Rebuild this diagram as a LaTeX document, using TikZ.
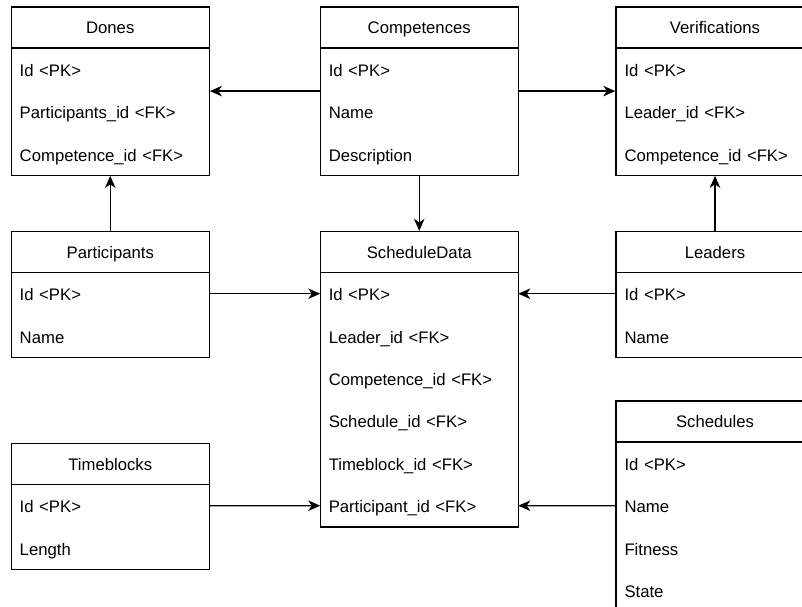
\documentclass[tikz,border=0pt]{standalone}
\usepackage{fontspec}
\setmainfont{Liberation Sans}
\usetikzlibrary{
    arrows.meta,
    positioning,
    fit
}

\begin{document}
\begin{tikzpicture}[
        x=1pt, y=-1pt,
        font=\fontsize{16.7}{20}\selectfont,
        header/.style={
            rectangle,
            draw,
            line width=1.3pt,
            minimum width=198pt,
            minimum height=41pt,
            text height=12pt,
            text depth=0pt,
            inner sep=0pt,
            outer sep=0pt
        },
        field/.style={
            rectangle,
            text width=181pt,
            text height=14pt,
            text depth=0pt,
            inner xsep=8.5pt,
            inner ysep=0pt,
            outer sep=0pt,
            minimum height=42.4pt,
            align=left
        },
        entity/.style={
            rectangle,
            draw,
            line width=1.3pt,
            inner sep=0pt
        },
        link/.style={
            -{Stealth[length=12pt, width=10.5pt, inset=3.5pt]},
            line width=1.3pt
        }
    ]

    \useasboundingbox (0,0) rectangle (802,606);
    \clip (0,0) rectangle (802,606);

    % top row
    \node[header] (dones) at (110.25,27.5) {Dones};
    \node[field, below=0pt of dones] (dones-1) {Id <PK>};
    \node[field, below=0pt of dones-1] (dones-2) {Participants\_id <FK>};
    \node[field, below=0pt of dones-2] (dones-3) {Competence\_id <FK>};
    \node[entity, fit=(dones)(dones-3)] (donesbox) {};

    \node[header] (comp) at (419.25,27.5) {Competences};
    \node[field, below=0pt of comp] (comp-1) {Id <PK>};
    \node[field, below=0pt of comp-1] (comp-2) {Name};
    \node[field, below=0pt of comp-2] (comp-3) {Description};
    \node[entity, fit=(comp)(comp-3)] (compbox) {};

    \node[header] (verif) at (715,27.5) {Verifications};
    \node[field, below=0pt of verif] (verif-1) {Id <PK>};
    \node[field, below=0pt of verif-1] (verif-2) {Leader\_id <FK>};
    \node[field, below=0pt of verif-2] (verif-3) {Competence\_id <FK>};
    \node[entity, fit=(verif)(verif-3)] (verifbox) {};

    % middle row
    \node[header] (part) at (110.25,252) {Participants};
    \node[field, below=0pt of part] (part-1) {Id <PK>};
    \node[field, below=0pt of part-1] (part-2) {Name};
    \node[entity, fit=(part)(part-2)] (partbox) {};

    \node[header] (sdata) at (419.25,252) {ScheduleData};
    \node[field, below=0pt of sdata] (sdata-1) {Id <PK>};
    \node[field, below=0pt of sdata-1] (sdata-2) {Leader\_id <FK>};
    \node[field, below=0pt of sdata-2] (sdata-3) {Competence\_id <FK>};
    \node[field, below=0pt of sdata-3] (sdata-4) {Schedule\_id <FK>};
    \node[field, below=0pt of sdata-4] (sdata-5) {Timeblock\_id <FK>};
    \node[field, below=0pt of sdata-5] (sdata-6) {Participant\_id <FK>};
    \node[entity, fit=(sdata)(sdata-6)] (sdatabox) {};

    \node[header] (lead) at (715,252) {Leaders};
    \node[field, below=0pt of lead] (lead-1) {Id <PK>};
    \node[field, below=0pt of lead-1] (lead-2) {Name};
    \node[entity, fit=(lead)(lead-2)] (leadbox) {};

    % bottom row
    \node[header] (tblock) at (110.25,464) {Timeblocks};
    \node[field, below=0pt of tblock] (tblock-1) {Id <PK>};
    \node[field, below=0pt of tblock-1] (tblock-2) {Length};
    \node[entity, fit=(tblock)(tblock-2)] (tblockbox) {};

    \node[header] (sched) at (715,421.6) {Schedules};
    \node[field, below=0pt of sched] (sched-1) {Id <PK>};
    \node[field, below=0pt of sched-1] (sched-2) {Name};
    \node[field, below=0pt of sched-2] (sched-3) {Fitness};
    \node[field, below=0pt of sched-3] (sched-4) {State};
    \node[entity, fit=(sched)(sched-4)] (schedbox) {};

    \draw[link] (compbox.west) -- (donesbox.east);
    \draw[link] (compbox.east) -- (verifbox.west);
    \draw[link] (compbox.south) -- (sdatabox.north);
    \draw[link] (partbox.north) -- (donesbox.south);
    \draw[link] (leadbox.north) -- (verifbox.south);

    \draw[link] (part-1.east) -- (sdata-1.west);
    \draw[link] (lead-1.west) -- (sdata-1.east);
    \draw[link] (tblock-1.east) -- (sdata-6.west);
    \draw[link] (sched-2.west) -- (sdata-6.east);

\end{tikzpicture}
\end{document}
